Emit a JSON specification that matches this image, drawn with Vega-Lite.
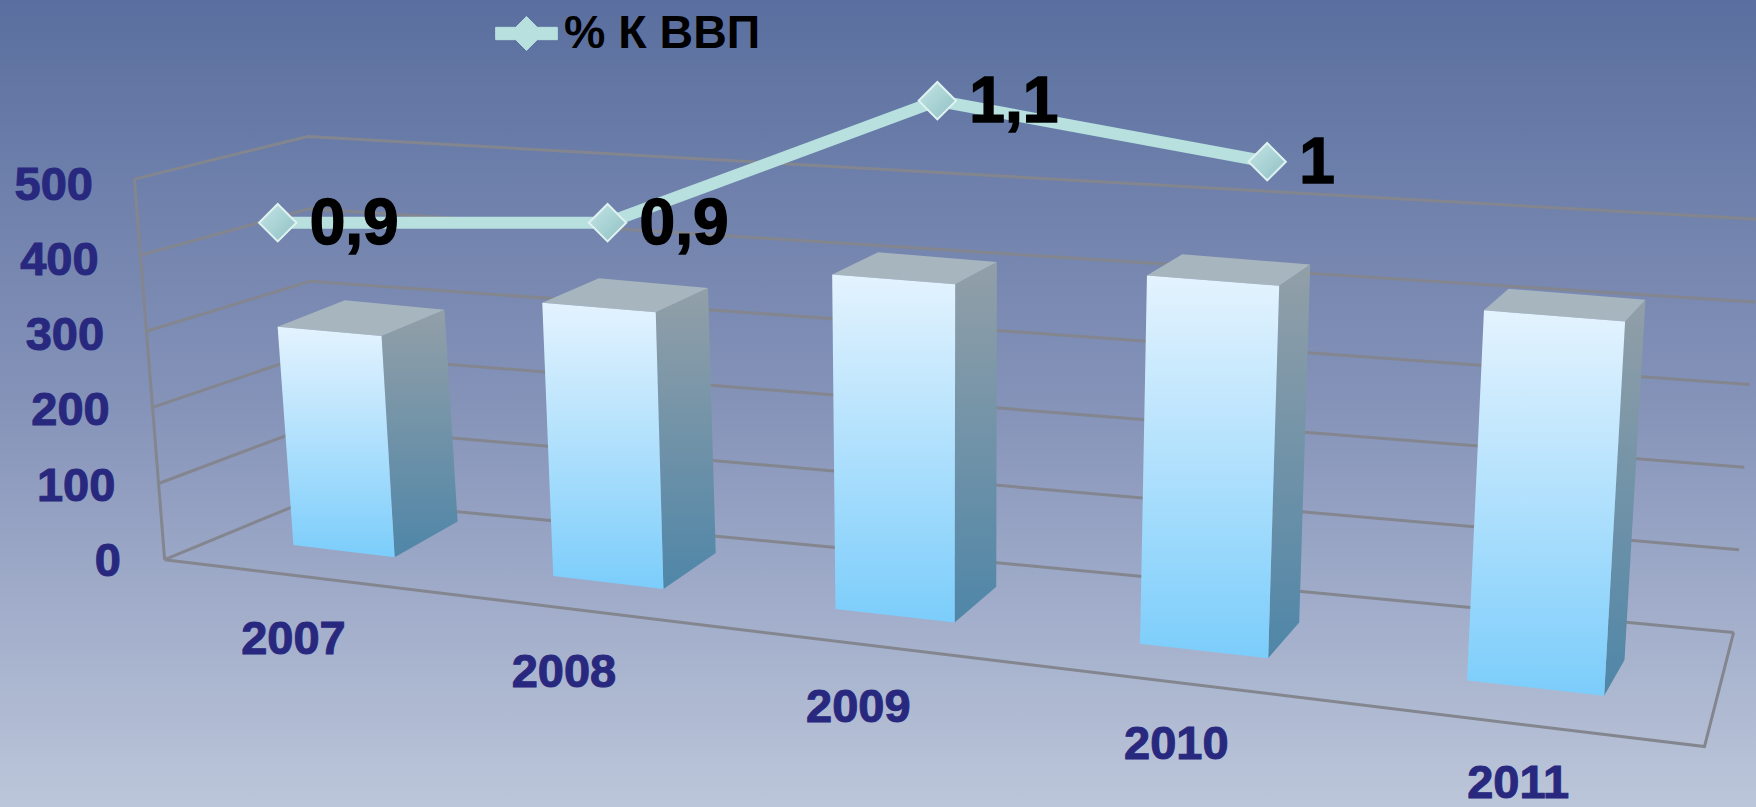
{"$schema":"https://vega.github.io/schema/vega-lite/v6.json","width":1756,"height":807,"autosize":{"type":"none"},"padding":0,
"view":{"stroke":null,"fill":{"gradient":"linear","x1":0,"y1":0,"x2":0,"y2":1,"stops":[{"offset":0,"color":"#5a6f9f"},{"offset":0.5,"color":"#8593b9"},{"offset":1,"color":"#bcc6da"}]}},
"datasets":{"bars":[{"year":2007,"value":282,"pct":0.9},{"year":2008,"value":342,"pct":0.9},{"year":2009,"value":406,"pct":1.1},{"year":2010,"value":434,"pct":1.0},{"year":2011,"value":424,"pct":null}],
"levels":[{"level":0},{"level":100},{"level":200},{"level":300},{"level":400},{"level":500}]},
"encoding":{"x":{"field":"sx","type":"quantitative","scale":{"domain":[0,1568],"nice":false,"zero":false},"axis":null},"y":{"field":"sy","type":"quantitative","scale":{"domain":[721,0],"nice":false,"zero":false},"axis":null}},
"layer":[
{"data":{"name":"levels"},"transform":[{"calculate":"datum.level/500","as":"h"},{"calculate":"[0,1,2]","as":"p"},{"flatten":["p"]},
{"calculate":"datum.p==0?147-27*datum.h:datum.p==1?280-5*datum.h:1548+24*datum.h","as":"sx"},
{"calculate":"datum.p==0?500-340*datum.h:datum.p==1?445-323*datum.h:565-369*datum.h","as":"sy"}],
"mark":{"type":"line","stroke":"#84868f","strokeWidth":3,"clip":true},"encoding":{"detail":{"field":"level"},"order":{"field":"p"}}},
{"data":{"name":"levels"},"transform":[{"calculate":"datum.level/500","as":"h"},{"calculate":"147-27*datum.h","as":"sx"},{"calculate":"500-340*datum.h","as":"sy"}],
"mark":{"type":"line","stroke":"#84868f","strokeWidth":3},"encoding":{"order":{"field":"level"}}},
{"data":{"values":[{"edge":"floor"}]},"transform":[{"calculate":"[0,1,2]","as":"p"},{"flatten":["p"]},
{"calculate":"datum.p==0?147:datum.p==1?1522:1548","as":"sx"},{"calculate":"datum.p==0?500:datum.p==1?667:565","as":"sy"}],
"mark":{"type":"line","stroke":"#84868f","strokeWidth":3},"encoding":{"order":{"field":"p"}}},
{"data":{"name":"levels"},"transform":[{"calculate":"108-25*datum.level/500","as":"sx"},{"calculate":"502-336*datum.level/500","as":"sy"}],
"mark":{"type":"text","align":"right","baseline":"middle","font":"Liberation Sans","fontWeight":"bold","fontSize":47,"fill":"#28287f","stroke":"#28287f","strokeWidth":1},"encoding":{"text":{"field":"level","type":"quantitative"}}},
{"data":{"name":"bars"},"transform":[{"calculate":"datum.year-2007","as":"i"},{"calculate":"262+231*datum.i+10.6*datum.i*datum.i","as":"sx"},{"calculate":"572+28.5*datum.i+0.9*datum.i*datum.i","as":"sy"},{"calculate":"toString(datum.year)","as":"lab"}],
"mark":{"type":"text","align":"center","baseline":"middle","font":"Liberation Sans","fontWeight":"bold","fontSize":47,"fill":"#28287f","stroke":"#28287f","strokeWidth":1},"encoding":{"text":{"field":"lab"}}},
{"data":{"name":"bars"},"transform":[{"calculate":"datum.value/500","as":"hv"},{"calculate":"[0,1,2,3]","as":"c"},{"flatten":["c"]},
{"calculate":"datum.year-2007+0.4","as":"t"},{"calculate":"datum.c==1||datum.c==2?1:0","as":"d"},{"calculate":"datum.c>=2?datum.hv:0","as":"h"},
{"calculate":"262+222*datum.t+10*datum.t*datum.t+(-25+10.7*datum.t)*datum.h+datum.d*(60-9.5*datum.t)","as":"sx"},
{"calculate":"487+26.75*datum.t+0.875*datum.t*datum.t-(346+11*datum.t)*datum.h+datum.d*(-32+15*datum.h)","as":"sy"}],
"mark":{"type":"line","filled":true,"strokeWidth":0,"fill":{"gradient":"linear","x1":0,"y1":0,"x2":0,"y2":1,"stops":[{"offset":0,"color":"#929fa8"},{"offset":1,"color":"#4f86a8"}]}},"encoding":{"detail":{"field":"year"},"order":{"field":"c"}}},
{"data":{"name":"bars"},"transform":[{"calculate":"datum.value/500","as":"h"},{"calculate":"[0,1,2,3]","as":"c"},{"flatten":["c"]},
{"calculate":"datum.year-2007+(datum.c==1||datum.c==2?0.4:0)","as":"t"},{"calculate":"datum.c>=2?1:0","as":"d"},
{"calculate":"262+222*datum.t+10*datum.t*datum.t+(-25+10.7*datum.t)*datum.h+datum.d*(60-9.5*datum.t)","as":"sx"},
{"calculate":"487+26.75*datum.t+0.875*datum.t*datum.t-(346+11*datum.t)*datum.h+datum.d*(-32+15*datum.h)","as":"sy"}],
"mark":{"type":"line","filled":true,"strokeWidth":0,"fill":"#a7b5bf"},"encoding":{"detail":{"field":"year"},"order":{"field":"c"}}},
{"data":{"name":"bars"},"transform":[{"calculate":"datum.value/500","as":"hv"},{"calculate":"[0,1,2,3]","as":"c"},{"flatten":["c"]},
{"calculate":"datum.year-2007+(datum.c==1||datum.c==2?0.4:0)","as":"t"},{"calculate":"datum.c>=2?datum.hv:0","as":"h"},
{"calculate":"262+222*datum.t+10*datum.t*datum.t+(-25+10.7*datum.t)*datum.h","as":"sx"},
{"calculate":"487+26.75*datum.t+0.875*datum.t*datum.t-(346+11*datum.t)*datum.h","as":"sy"}],
"mark":{"type":"line","filled":true,"strokeWidth":0,"fill":{"gradient":"linear","x1":0,"y1":0,"x2":0,"y2":1,"stops":[{"offset":0,"color":"#e4f3fe"},{"offset":1,"color":"#7bcdfb"}]}},"encoding":{"detail":{"field":"year"},"order":{"field":"c"}}},
{"data":{"name":"bars"},"transform":[{"filter":"datum.pct!=null"},{"calculate":"248+294.5*(datum.year-2007)","as":"sx"},{"calculate":"199-(datum.pct-0.9)*545","as":"sy"}],
"mark":{"type":"line","strokeWidth":12},"encoding":{"color":{"datum":"% К ВВП","scale":{"range":["#b7e0df"]},"legend":{"title":null,"orient":"none","legendX":495,"legendY":2,"symbolType":"M-1,-0.2H-0.35L0,-0.55L0.35,-0.2H1V0.2H0.35L0,0.55L-0.35,0.2H-1Z","symbolSize":3800,"symbolStrokeWidth":1,"symbolFillColor":"#b7e0df","symbolOpacity":1,"labelFontSize":46.5,"labelFont":"Liberation Sans","labelFontWeight":"bold","labelColor":"#000000","labelLimit":400,"labelOffset":6}}}},
{"data":{"name":"bars"},"transform":[{"filter":"datum.pct!=null"},{"calculate":"248+294.5*(datum.year-2007)","as":"sx"},{"calculate":"199-(datum.pct-0.9)*545","as":"sy"}],
"mark":{"type":"point","shape":"diamond","filled":true,"size":1400,"fill":{"gradient":"linear","x1":0,"y1":0,"x2":1,"y2":1,"stops":[{"offset":0,"color":"#c4e5e5"},{"offset":1,"color":"#8fc0c4"}]},"stroke":"#dff2f1","strokeWidth":2,"opacity":1}},
{"data":{"name":"bars"},"transform":[{"filter":"datum.pct!=null"},{"calculate":"248+294.5*(datum.year-2007)","as":"sx"},{"calculate":"199-(datum.pct-0.9)*545","as":"sy"},{"calculate":"replace(toString(datum.pct),'.',',')","as":"lab"}],
"mark":{"type":"text","align":"left","baseline":"middle","dx":32,"dy":2,"font":"Liberation Sans","fontWeight":"bold","fontSize":64,"fill":"#000000","stroke":"#000000","strokeWidth":1.5},"encoding":{"text":{"field":"lab"}}}
]}
